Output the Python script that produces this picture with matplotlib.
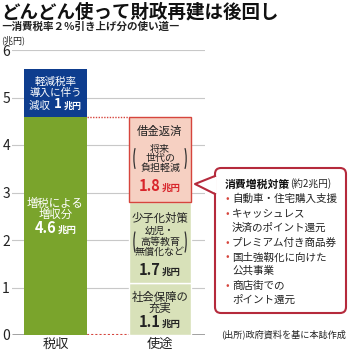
import matplotlib.pyplot as plt
from matplotlib.patches import Arc, FancyBboxPatch, Polygon
from matplotlib.lines import Line2D
from matplotlib.offsetbox import TextArea, HPacker, AnnotationBbox

plt.rcParams['font.family'] = ['Noto Sans CJK JP', 'DejaVu Sans']

# 兆円
categories = ['税収', '使途']
revenue = [4.6, 1.0]          # 増税による増収分, 軽減税率による減収
uses = [1.1, 1.7, 1.8]        # 社会保障, 少子化対策, 借金返済
measures = [['自動車・住宅購入支援'],
            ['キャッシュレス', '決済のポイント還元'],
            ['プレミアム付き商品券'],
            ['国土強靱化に向けた', '公共事業'],
            ['商店街での', 'ポイント還元']]

GREEN = '#7aa42c'
BLUE = '#0e3d8e'
LIGHT = '#d8e1b9'
PINK = '#f6d0c2'
RED = '#d6453d'
CRIMSON = '#b52a3c'
TXT = '#222222'

fig = plt.figure(figsize=(3.5, 3.51), dpi=100)
ax = fig.add_axes([12 / 350, 1 - 335 / 351, 193 / 350, 285 / 351])
ax.set_xlim(-0.416, 1.43)
ax.set_ylim(0, 6)
w = 0.6

# 税収
ax.bar(0, revenue[0], w, color=GREEN, zorder=3)
ax.bar(0, revenue[1], w, bottom=revenue[0], color=BLUE, zorder=3)

# 使途
bottoms = [0, uses[0], uses[0] + uses[1]]
ax.bar(1, uses[0], w, bottom=bottoms[0], color=LIGHT, edgecolor='white', lw=1, zorder=3)
ax.bar(1, uses[1], w, bottom=bottoms[1], color=LIGHT, edgecolor='white', lw=1, zorder=3)
ax.bar(1, uses[2], w, bottom=bottoms[2], color=PINK, edgecolor=RED, lw=1, zorder=4)

top_total = sum(uses)
ax.hlines(top_total, w / 2, 1 - w / 2, color=RED, lw=1, linestyles=(0, (1, 1)), zorder=2)
ax.hlines(0, w / 2, 1 - w / 2, color=RED, lw=1.5, linestyles=(0, (1, 1)), zorder=2)
ax.hlines(0, -0.416, w / 2, color='#999999', lw=2, zorder=2)
ax.hlines(0, 1 - w / 2, 1.43, color='#999999', lw=2, zorder=2)

ax.set_yticks(range(7))
ax.yaxis.grid(True, color='#c8c8c8', lw=0.8, zorder=0)
ax.tick_params(axis='y', length=0, pad=1.5, labelsize=10, labelcolor=TXT)
ax.set_xticks([0, 1])
ax.set_xticklabels(categories, fontsize=9.5, color=TXT)
ax.tick_params(axis='x', length=0, pad=2)
for s in ax.spines.values():
    s.set_visible(False)

PT = 0.72  # points per pixel at 100 dpi


def lines(x, top, rows, size, color, weight='normal'):
    # rows: (text, pixels below the segment top)
    for text, dy in rows:
        ax.annotate(text, (x, top), xytext=(0, -dy * PT), textcoords='offset points',
                    ha='center', va='center', fontsize=size, color=color,
                    fontweight=weight, zorder=6)


def value_label(x, top, dy, parts, color):
    kids = [TextArea(t, textprops=dict(fontsize=fs, fontweight=fw, color=color))
            for t, fs, fw in parts]
    box = HPacker(children=kids, align='baseline', pad=0, sep=1)
    ax.add_artist(AnnotationBbox(box, (x, top), xybox=(0, -dy * PT), xycoords='data',
                                 boxcoords='offset points', frameon=False,
                                 box_alignment=(0.5, 0.5), pad=0, zorder=6))


def parens(x, y, half, height):
    for cx, t1, t2 in [(x - half, 100, 260), (x + half, -80, 80)]:
        ax.add_patch(Arc((cx, y), 0.1, height, theta1=t1, theta2=t2,
                         color='#333333', lw=0.9, zorder=6))


def unit(v, big=10.5, small=6.8):
    return [(v, big, 'bold'), ('兆円', small, 'bold')]


# 税収 labels
top_rev = revenue[0] + revenue[1]
lines(0, top_rev, [('軽減税率', 12.7), ('導入に伴う', 24)], 7.6, 'white')
value_label(0, top_rev, 35.5, [('減収 ', 7.6, 'normal'), ('1', 9.5, 'bold'), ('兆円', 6.5, 'bold')], 'white')
lines(0, revenue[0], [('増税による', 86.5), ('増収分', 98.2)], 8.2, 'white')
value_label(0, revenue[0], 111.5, unit('4.6'), 'white')

# 使途 labels
lines(1, top_total, [('借金返済', 15.2)], 8.2, TXT)
lines(1, top_total, [('将来', 32.2), ('世代の', 41.8), ('負担軽減', 51.5)], 7.2, TXT)
parens(1, top_total - 42 / 47.5, 0.2, 0.68)
value_label(1, top_total, 69.2, unit('1.8'), '#d8252b')

top_mid = uses[0] + uses[1]
lines(1, top_mid, [('少子化対策', 16)], 8.2, TXT)
lines(1, top_mid, [('幼児・', 29), ('高等教育', 39.5), ('無償化など', 50)], 7.2, TXT)
parens(1, top_mid - 40 / 47.5, 0.2, 0.7)
value_label(1, top_mid, 68, unit('1.7'), TXT)

lines(1, uses[0], [('社会保障の', 14.3), ('充実', 26)], 8.2, TXT)
value_label(1, uses[0], 39, unit('1.1'), TXT)

# overlay in pixel units for headings and the callout
ov = fig.add_axes([0, 0, 1, 1])
ov.set_xlim(0, 350)
ov.set_ylim(351, 0)
ov.axis('off')

ov.text(1, 11.5, 'どんどん使って財政再建は後回し', fontsize=13.3, fontweight='bold',
        color='#111111', va='center', ha='left')
ov.text(1, 27, '―消費税率２％引き上げ分の使い道―', fontsize=7.6, fontweight='bold',
        color='#222222', va='center', ha='left')
ov.text(1, 40, '(兆円)', fontsize=6.5, color=TXT, va='center', ha='left')

ov.add_patch(FancyBboxPatch((215, 168), 131, 145, boxstyle='round,pad=0,rounding_size=6',
                            ec=CRIMSON, fc='white', lw=1.5, zorder=2))
ov.add_patch(Polygon([(216.5, 176.5), (195, 184), (216.5, 193.5)], closed=True,
                     fc='white', ec='none', zorder=3))
ov.add_line(Line2D([215, 195, 215], [176, 184, 194], color=CRIMSON, lw=1.5, zorder=4))

title_box = HPacker(children=[
    TextArea('消費増税対策', textprops=dict(fontsize=7.8, fontweight='bold', color='#111111')),
    TextArea('(約2兆円)', textprops=dict(fontsize=7, color=TXT))],
    align='baseline', pad=0, sep=0)
ov.add_artist(AnnotationBbox(title_box, (225, 184), xycoords='data', frameon=False,
                             box_alignment=(0, 0.5), pad=0, zorder=5))

y = 199
for item in measures:
    ov.text(226, y, '•', fontsize=7.5, color=RED, va='center', ha='left', zorder=5)
    for k, row in enumerate(item):
        ov.text(232, y, row, fontsize=7.6, color=TXT, va='center', ha='left', zorder=5)
        y += 13.5 if k < len(item) - 1 else 0
    y += 15

ov.text(346, 334, '(出所)政府資料を基に本誌作成', fontsize=6.6, color=TXT,
        va='center', ha='right')

fig.savefig('out.png', dpi=100)
